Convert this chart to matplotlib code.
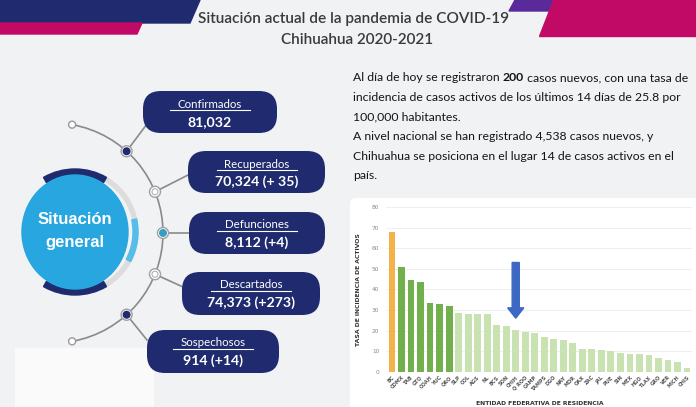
import numpy as np
import matplotlib.pyplot as plt
from matplotlib.patches import FancyBboxPatch, Polygon, Ellipse, Wedge, Circle, Arc, FancyArrow, Rectangle

# datos de la lamina
titulo = ['Situación actual de la pandemia de COVID-19', 'Chihuahua 2020-2021']
rubros = ['Confirmados', 'Recuperados', 'Defunciones', 'Descartados', 'Sospechosos']
cifras = ['81,032', '70,324 (+ 35)', '8,112 (+4)', '74,373 (+273)', '914 (+14)']

estados = ['BC', 'CDMX', 'TAB', 'GTO', 'COAH', 'YUC', 'QRO', 'SLP', 'COL', 'AGS', 'NL',
           'BCS', 'SON', 'CHIH', 'Q ROO', 'CAMP', 'TAMPS', 'DGO', 'NAY', 'MOR', 'OAX',
           'ZAC', 'JAL', 'PUE', 'SIN', 'MEX', 'HGO', 'TLAX', 'GRO', 'VER', 'MICH', 'CHIS']
tasa = [67.7, 51, 44.6, 43.7, 33.4, 32.8, 32, 28.7, 27.9, 27.9, 27.9, 23, 22.4, 20.6,
        19.5, 19, 16.9, 16.1, 15.4, 14.3, 11.2, 11, 10.6, 10.2, 9.3, 8.9, 8.6, 8.3,
        6.8, 5.8, 5, 1.9]
nivel = [0] + [1] * 6 + [2] * 25
estado_marcado = 'CHIH'

NAVY = '#1f2b6e'
FUENTE = ['Lato', 'DejaVu Sans']

fig = plt.figure(figsize=(6.96, 4.07), dpi=100)
fig.patch.set_facecolor('#f1f2f4')
bg = fig.add_axes([0, 0, 1, 1])
bg.set_xlim(0, 696)
bg.set_ylim(407, 0)
bg.axis('off')
renderer = fig.canvas.get_renderer()


def ajustar(t, ancho):
    # escala el texto para que mida 'ancho' pixeles
    w = t.get_window_extent(renderer).width
    t.set_fontsize(t.get_fontsize() * ancho / w)


# franjas de encabezado
bg.add_patch(Polygon([(0, 0), (200, 0), (190, 23), (0, 23)], color=NAVY))
bg.add_patch(Polygon([(0, 23), (142, 23), (137, 34), (0, 34)], color='#c10a66'))
bg.add_patch(Polygon([(515, 0), (560, 0), (555, 11), (509, 11)], color='#5a2a9a'))
bg.add_patch(Polygon([(553, 0), (696, 0), (696, 36), (539, 36)], color='#c10a66'))
tt = bg.text(354, 19, titulo[0], ha='center', va='center', fontsize=11, color='#3a3a3a',
             family=FUENTE, weight='semibold')
ajustar(tt, 310)
tt2 = bg.text(357, 40, titulo[1], ha='center', va='center', fontsize=11, color='#3a3a3a',
              family=FUENTE, weight='semibold')
ajustar(tt2, 152)

# zona blanca inferior izquierda
bg.add_patch(Rectangle((15, 348), 138, 60, color='#fafafa', zorder=0))

# circulo central
cx, cy = 75, 232
bg.add_patch(Wedge((cx, cy), 63, -60, 60, width=4, color='#dcdcdc'))
bg.add_patch(Wedge((cx, cy), 63, -12, 28, width=5, color='#55bde8'))
bg.add_patch(Wedge((cx, cy), 63, 240, 300, width=6, color=NAVY))
bg.add_patch(Wedge((cx, cy), 63, 60, 120, width=6, color=NAVY))
bg.add_patch(Ellipse((cx, cy), 106, 114, color='#27a6df'))
for txt, yy in (('Situación', 220), ('general', 243)):
    bg.text(cx, yy, txt, ha='center', va='center', fontsize=12, weight='bold',
            color='white', family=['Liberation Sans', 'DejaVu Sans'])

# arco conector
ac, ar = (53, 233), 110
bg.add_patch(Arc(ac, 2 * ar, 2 * ar, theta1=-80, theta2=80, color='#8a8a8a', lw=1.2))
for ang in (-80, 80):
    p = (ac[0] + ar * np.cos(np.radians(ang)), ac[1] + ar * np.sin(np.radians(ang)))
    bg.add_patch(Circle(p, 3.5, facecolor='white', edgecolor='#9a9a9a', lw=1, zorder=3))

angulos = [-48, -22, 0, 22, 48]
cajas = [(143, 91, 277, 133), (188, 151, 325, 193), (189, 212, 325, 254),
         (182, 272, 320, 315), (147, 330, 279, 373)]
destinos = [(147, 124), (190, 174), (189, 233), (183, 287), (147, 340)]
estilos = ['navy', 'ring', 'teal', 'ring', 'navy']

for rubro, cifra, ang, caja, dest, est in zip(rubros, cifras, angulos, cajas, destinos, estilos):
    px = ac[0] + ar * np.cos(np.radians(ang))
    py = ac[1] + ar * np.sin(np.radians(ang))
    bg.plot([px, dest[0]], [py, dest[1]], color='#8a8a8a', lw=1.2, zorder=2)
    bg.add_patch(Circle((px, py), 5.5, facecolor='white', edgecolor='#a0a0a0', lw=1, zorder=3))
    if est == 'navy':
        bg.add_patch(Circle((px, py), 3.3, color=NAVY, zorder=4))
    elif est == 'teal':
        bg.add_patch(Circle((px, py), 3.3, color='#3a9cc4', zorder=4))
    else:
        bg.add_patch(Circle((px, py), 3.0, facecolor='white', edgecolor='#b0b0b0', lw=0.8, zorder=4))
    x0, y0, x1, y1 = caja
    bg.add_patch(FancyBboxPatch((x0, y0), x1 - x0, y1 - y0,
                                boxstyle='round,pad=0,rounding_size=18',
                                facecolor=NAVY, edgecolor='none', zorder=3))
    xm = (x0 + x1) / 2
    bg.text(xm, y0 + 13, rubro, ha='center', va='center', fontsize=8.3, color='white',
            family=FUENTE, zorder=5)
    bg.plot([xm - 40, xm + 40], [y0 + 19, y0 + 19], color='white', lw=0.8, zorder=5)
    bg.text(xm, y0 + 31, cifra, ha='center', va='center', fontsize=10.2, weight='bold',
            color='white', family=FUENTE, zorder=5)

# parrafo
tk = dict(fontsize=9, color='#151515', family=FUENTE, va='bottom')
t1 = bg.text(353, 83, 'Al día de hoy se registraron ', **tk)
t2 = bg.annotate('200', xy=(1, 0), xycoords=t1, weight='bold', **tk)
t3 = bg.annotate(' casos nuevos, con una tasa de', xy=(1, 0), xycoords=t2, **tk)
fig.canvas.draw()
ancho = t3.get_window_extent(renderer).x1 - t1.get_window_extent(renderer).x0
escala = 337 / ancho
for t in (t1, t2, t3):
    t.set_fontsize(t.get_fontsize() * escala)
tk['fontsize'] = 9 * escala
lineas = ['incidencia de casos activos de los últimos 14 días de 25.8 por',
          '100,000 habitantes.',
          'A nivel nacional se han registrado 4,538 casos nuevos, y',
          'Chihuahua se posiciona en el lugar 14 de casos activos en el',
          'país.']
for i, ln in enumerate(lineas):
    bg.text(353, 103 + i * 19.5, ln, **tk)

# panel de la grafica
bg.add_patch(FancyBboxPatch((350, 198), 360, 220, boxstyle='round,pad=0,rounding_size=6',
                            facecolor='white', edgecolor='none'))

ax = fig.add_axes([0.555, 0.086, 0.439, 0.4054])
ax.patch.set_alpha(0)
colores = ['#f4b24a', '#72b04e', '#c8e2b2']
x = np.arange(len(estados))
ax.bar(x, tasa, width=0.72, color=[colores[n] for n in nivel], zorder=2)
ax.set_xlim(-0.6, len(estados) - 0.5)
ax.set_ylim(0, 80)
ax.set_yticks(range(0, 81, 10))
ax.grid(axis='y', color='#ececec', lw=0.6, zorder=0)
for s in ax.spines.values():
    s.set_visible(False)
ax.tick_params(axis='both', length=0)
ax.tick_params(axis='y', labelsize=4.2, labelcolor='#8a8a8a', pad=5)
ax.set_xticks(x)
ax.set_xticklabels(estados, rotation=45, ha='right', rotation_mode='anchor',
                   fontsize=3.6, color='#555555', weight='bold')
ax.tick_params(axis='x', pad=2)
ax.set_ylabel('TASA DE INCIDENCIA DE ACTIVOS', fontsize=4.4, weight='bold', color='#333333')
ax.yaxis.set_label_coords(-0.084, 0.5)
ax.set_xlabel('ENTIDAD FEDERATIVA DE RESIDENCIA', fontsize=4.4, weight='bold', color='#333333')
ax.xaxis.set_label_coords(0.503, -0.178)

i = estados.index(estado_marcado)
ax.add_patch(FancyArrow(i, tasa[i] + 32.5, 0, -27, width=0.75, head_width=1.7,
                        head_length=5, length_includes_head=True, color='#3d68c4', zorder=3))

fig.savefig('out.png', dpi=100, facecolor=fig.get_facecolor())
